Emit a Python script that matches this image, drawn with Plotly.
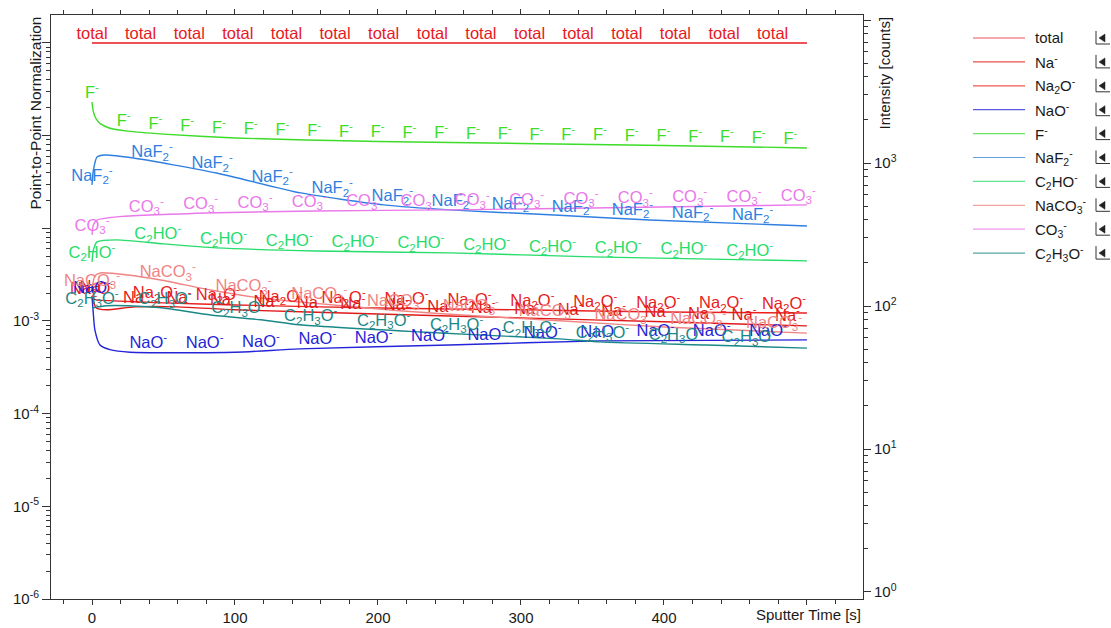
import numpy as np
import plotly.graph_objects as go

# ---------------- data (sputter time [s], point-to-point normalized intensity) ----------------
t_total = [0, 500]
v_total = [1.0, 1.0]

t_Na = [0, 3, 10, 30, 60, 100, 200, 300, 400, 500]
v_Na = [0.00187, 0.00138, 0.00132, 0.00142, 0.00142, 0.00132, 0.00119, 0.00108, 0.00098, 0.000885]

t_Na2O = [0, 3, 15, 50, 100, 200, 300, 400, 500]
v_Na2O = [0.00177, 0.00169, 0.00165, 0.00157, 0.00149, 0.00138, 0.00132, 0.00125, 0.00122]

t_NaO = [0, 1, 2, 5.6, 12.6, 26.6, 100, 145, 250, 355, 500]
v_NaO = [0.00182, 0.00116, 0.00080, 0.00055, 0.00049, 0.00046, 0.00046, 0.00050, 0.00055, 0.00061, 0.000625]

t_F = [0, 1, 3, 6, 12, 25, 50, 100, 150, 200, 300, 400, 500]
v_F = [0.231, 0.180, 0.151, 0.134, 0.121, 0.112, 0.104, 0.0944, 0.0899, 0.0866, 0.0824, 0.0784, 0.0737]

t_NaF2 = [0, 1, 3.5, 9, 29, 87, 146, 204, 250, 320, 390, 500]
v_NaF2 = [0.0294, 0.0427, 0.0589, 0.0619, 0.0574, 0.0396, 0.0241, 0.0179, 0.0158, 0.0140, 0.0123, 0.0106]

t_C2HO = [0, 1, 3.5, 17.5, 50, 87, 157, 250, 350, 500]
v_C2HO = [0.00434, 0.00585, 0.00713, 0.00750, 0.00679, 0.00615, 0.00570, 0.00543, 0.00492, 0.00445]

t_NaCO3 = [0, 2, 6, 25, 48, 83, 118, 145, 215, 270, 330, 400, 500]
v_NaCO3 = [0.00216, 0.00307, 0.00330, 0.00314, 0.00277, 0.00216, 0.00177, 0.00161, 0.00129, 0.00113, 0.00100, 0.00086, 0.00074]

t_CO3 = [0, 1, 3.5, 17.5, 87, 157, 250, 350, 500]
v_CO3 = [0.00849, 0.0109, 0.0123, 0.0133, 0.0147, 0.0154, 0.0158, 0.0166, 0.0179]

t_C2H3O = [0, 10, 25, 50, 83, 118, 145, 230, 327, 355, 430, 500]
v_C2H3O = [0.00138, 0.00146, 0.00146, 0.00138, 0.00116, 0.00103, 0.00091, 0.00076, 0.000641, 0.000595, 0.00055, 0.00051]

legend_names = ["total", "Na<sup>-</sup>", "Na<sub>2</sub>O<sup>-</sup>", "NaO<sup>-</sup>", "F<sup>-</sup>",
                "NaF<sub>2</sub><sup>-</sup>", "C<sub>2</sub>HO<sup>-</sup>", "NaCO<sub>3</sub><sup>-</sup>",
                "CO<sub>3</sub><sup>-</sup>", "C<sub>2</sub>H<sub>3</sub>O<sup>-</sup>"]

x_tick_vals = [0, 100, 200, 300, 400, 500]
x_tick_text = ["0", "100", "200", "300", "400", ""]
y_tick_vals = [1e-6, 1e-5, 1e-4, 1e-3, 1e-2, 1e-1, 1]
y_tick_text = ["10<sup>-6</sup>", "10<sup>-5</sup>", "10<sup>-4</sup>", "10<sup>-3</sup>", "", "", ""]
y2_tick_vals = [1, 10, 100, 1000, 10000]
y2_tick_text = ["10<sup>0</sup>", "10<sup>1</sup>", "10<sup>2</sup>", "10<sup>3</sup>", ""]

# ---------------- style ----------------
FONT = "Liberation Sans, Arial, sans-serif"
series = [
    (t_total, v_total, "#e8181e", 34.0),
    (t_Na, v_Na, "#e01818", 30.4),
    (t_Na2O, v_Na2O, "#ea2020", 44.0),
    (t_NaO, v_NaO, "#2424d8", 39.4),
    (t_F, v_F, "#3cdc28", 22.2),
    (t_NaF2, v_NaF2, "#2f7fe0", 42.0),
    (t_C2HO, v_C2HO, "#26dc6a", 46.0),
    (t_NaCO3, v_NaCO3, "#f08484", 53.0),
    (t_CO3, v_CO3, "#ea78ea", 38.0),
    (t_C2H3O, v_C2H3O, "#1b8888", 51.0),
]

L, R, T, B = 51, 863, 15, 599
W, H = 1111, 628


def px2x(X):
    return (X - L) / (R - L)


def px2y(Y):
    return (B - Y) / (B - T)


fig = go.Figure()

for (tt, vv, col, step), name in zip(series, legend_names):
    fig.add_trace(go.Scatter(x=tt, y=vv, mode="lines", line=dict(color=col, width=1.4, shape="spline", smoothing=0.6),
                             showlegend=False, hoverinfo="skip"))
for (tt, vv, col, step), name in zip(series, legend_names):
    tl = np.arange(0, max(tt) + 1e-9, step)
    yl = 10 ** np.interp(tl, tt, np.log10(vv))
    fig.add_trace(go.Scatter(x=tl, y=yl, mode="text", text=[name] * len(tl), textposition="top center",
                             textfont=dict(color=col, size=16.5, family=FONT), showlegend=False,
                             hoverinfo="skip", cliponaxis=False))

# dummy trace to carry the right intensity axis
fig.add_trace(go.Scatter(x=[-100], y=[1], yaxis="y2", mode="markers", marker=dict(opacity=0),
                         showlegend=False, hoverinfo="skip"))

# ---------------- manual legend ----------------
shapes = []
annotations = []
for i, ((tt, vv, col, step), name) in enumerate(zip(series, legend_names)):
    yy = 38 + i * 23.9
    shapes.append(dict(type="line", xref="paper", yref="paper", x0=px2x(973), x1=px2x(1025), y0=px2y(yy), y1=px2y(yy),
                       line=dict(color=col, width=1.2), opacity=0.75))
    annotations.append(dict(x=px2x(1033), y=px2y(yy), xref="paper", yref="paper", text=name, showarrow=False,
                            xanchor="left", yanchor="middle", font=dict(size=15, color="#1a1a1a", family=FONT)))
    # small "|<" icon
    shapes.append(dict(type="line", xref="paper", yref="paper", x0=px2x(1096), x1=px2x(1096), y0=px2y(yy - 7), y1=px2y(yy + 6),
                       line=dict(color="#333", width=1)))
    shapes.append(dict(type="line", xref="paper", yref="paper", x0=px2x(1096), x1=px2x(1110), y0=px2y(yy + 6), y1=px2y(yy + 6),
                       line=dict(color="#333", width=1)))
    shapes.append(dict(type="path", xref="paper", yref="paper",
                       path=f"M {px2x(1099)},{px2y(yy)} L {px2x(1105)},{px2y(yy - 4)} L {px2x(1105)},{px2y(yy + 4)} Z",
                       fillcolor="#222", line=dict(color="#222", width=0.5)))

annotations.append(dict(x=px2x(35), y=1, xref="paper", yref="paper", text="Point-to-Point Normalization", textangle=-90,
                        showarrow=False, xanchor="center", yanchor="top", font=dict(size=15.5, color="#1a1a1a", family=FONT)))
annotations.append(dict(x=px2x(884), y=1, xref="paper", yref="paper", text="Intensity [counts]", textangle=-90,
                        showarrow=False, xanchor="center", yanchor="top", font=dict(size=15, color="#1a1a1a", family=FONT)))
annotations.append(dict(x=1, y=px2y(614), xref="paper", yref="paper", text="Sputter Time [s]",
                        showarrow=False, xanchor="right", yanchor="middle", font=dict(size=15, color="#1a1a1a", family=FONT)))

minor_y = [k * 10.0 ** e for e in range(-6, 1) for k in range(2, 10) if k * 10.0 ** e < 10 ** 0.30]
minor_y2 = [k * 10.0 ** e for e in range(0, 4) for k in range(2, 10)]
minor_x = [v for v in range(-20, 540, 20) if v % 100 != 0]

axis_common = dict(showgrid=False, zeroline=False, showline=True, linecolor="#333", linewidth=1, automargin=False,
                   ticks="outside", tickcolor="#333", tickfont=dict(size=15, color="#1a1a1a", family=FONT))

fig.update_layout(
    width=W, height=H, autosize=False,
    margin=dict(l=L, r=W - R, t=T, b=H - B, autoexpand=False, pad=0),
    paper_bgcolor="white", plot_bgcolor="white",
    showlegend=False,
    xaxis=dict(range=[-28.67, 539.2], tickmode="array", tickvals=x_tick_vals, ticktext=x_tick_text,
               ticklen=5, mirror="ticks",
               minor=dict(tickmode="array", tickvals=minor_x, ticks="outside", ticklen=4, tickcolor="#333"),
               **axis_common),
    yaxis=dict(type="log", range=[-6, 0.302], tickmode="array", tickvals=y_tick_vals, ticktext=y_tick_text,
               ticklen=8,
               minor=dict(tickmode="array", tickvals=minor_y, ticks="outside", ticklen=4, tickcolor="#333"),
               **axis_common),
    yaxis2=dict(type="log", range=[-0.049, 4.035], overlaying="y", side="right", anchor="x",
                tickmode="array", tickvals=y2_tick_vals, ticktext=y2_tick_text, ticklen=7,
                minor=dict(tickmode="array", tickvals=minor_y2, ticks="outside", ticklen=4, tickcolor="#333"),
                **axis_common),
    shapes=shapes,
    annotations=annotations,
)

fig.write_html("out.html", config={"responsive": False})
